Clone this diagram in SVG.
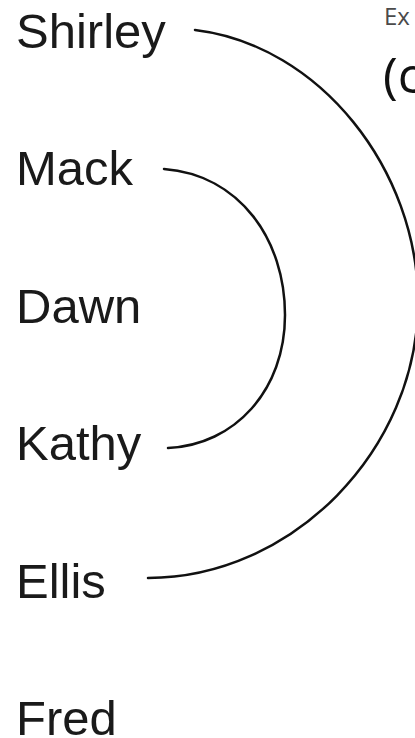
<svg xmlns="http://www.w3.org/2000/svg" width="415" height="738" viewBox="0 0 415 738">
<style>
.lbl{font-family:"Liberation Sans",Arial,sans-serif;font-size:49px;fill:#1a1a1a}
.arc{fill:none;stroke:#111;stroke-width:2.5;stroke-linecap:round}
.hdr{font-family:"Open Sans","Noto Sans",sans-serif}
</style>
<rect width="415" height="738" fill="#ffffff"/>
<text class="hdr" x="384" y="25" font-size="24" fill="#4a4a4a">Ex</text>
<text class="hdr" x="383" y="93" font-size="50" fill="#111">(c</text>
<g id="shirley"><text class="lbl" x="16" y="48">Shirley</text></g>
<g id="mack"><text class="lbl" x="16" y="185">Mack</text></g>
<g id="dawn"><text class="lbl" x="16" y="323">Dawn</text></g>
<g id="kathy"><text class="lbl" x="16" y="460">Kathy</text></g>
<g id="ellis"><text class="lbl" x="16" y="598">Ellis</text></g>
<g id="fred"><text class="lbl" x="16" y="735">Fred</text></g>
<g id="connectors">
<path class="arc" d="M195,30 C320,45 418,170 418,302 C418,450 292,578 148,578"/>
<path class="arc" d="M164,169 C240,175 285,240 285,315 C285,390 235,445 168,448"/>
</g>
</svg>
